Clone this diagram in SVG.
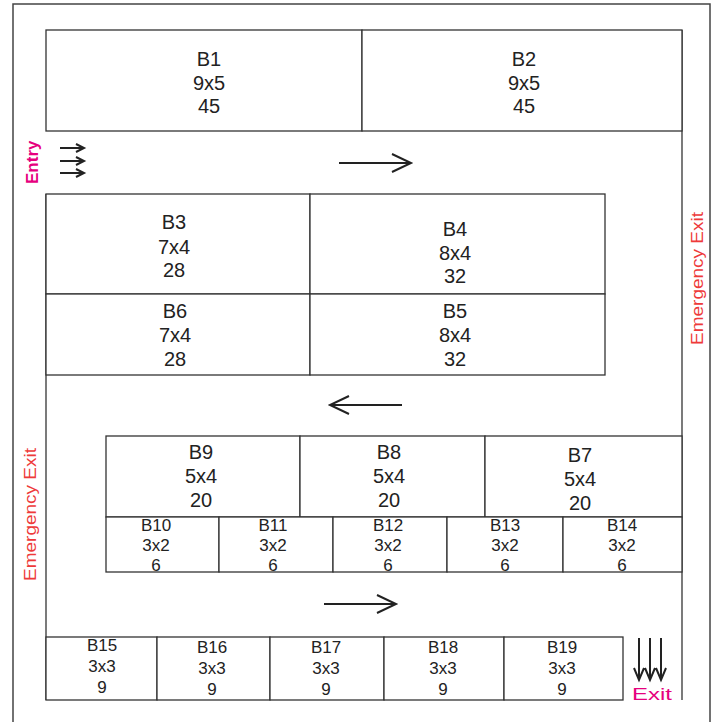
<svg xmlns="http://www.w3.org/2000/svg" width="720" height="722" viewBox="0 0 720 722">
<style>
.frame{fill:none;stroke:#444;stroke-width:1.5}
.wall{fill:none;stroke:#333;stroke-width:1.3}
.box{fill:#fff;stroke:#333;stroke-width:1.3}
.big{font-family:"Liberation Sans",Arial,sans-serif;font-size:20px;fill:#222;text-anchor:middle}
.sm{font-family:"Liberation Sans",Arial,sans-serif;font-size:17px;fill:#222;text-anchor:middle}
.arr{fill:none;stroke:#222;stroke-width:2}
.mag{font-family:"Liberation Sans",Arial,sans-serif;font-size:17px;fill:#e6007e}
.red{font-family:"Liberation Sans",Arial,sans-serif;font-size:17px;fill:#ee3a3a}
</style>
<rect width="720" height="722" fill="#fff"/>
<rect class="frame" x="13" y="4" width="697" height="740"/>
<g id="walls">
<line class="wall" x1="46" y1="194" x2="46" y2="700"/>
<line class="wall" x1="682" y1="30" x2="682" y2="700"/>
</g>
<g id="B1"><rect class="box" x="46" y="30" width="316" height="101"/><text class="big" x="209" y="66">B1</text><text class="big" x="209" y="90">9x5</text><text class="big" x="209" y="113">45</text></g>
<g id="B2"><rect class="box" x="362" y="30" width="320" height="101"/><text class="big" x="524" y="66">B2</text><text class="big" x="524" y="90">9x5</text><text class="big" x="524" y="113">45</text></g>
<g id="B3"><rect class="box" x="46" y="194" width="264" height="100"/><text class="big" x="174" y="229">B3</text><text class="big" x="174" y="254">7x4</text><text class="big" x="174" y="277">28</text></g>
<g id="B4"><rect class="box" x="310" y="194" width="295" height="100"/><text class="big" x="455" y="236">B4</text><text class="big" x="455" y="260">8x4</text><text class="big" x="455" y="283">32</text></g>
<g id="B6"><rect class="box" x="46" y="294" width="264" height="81"/><text class="big" x="175" y="318">B6</text><text class="big" x="175" y="342">7x4</text><text class="big" x="175" y="366">28</text></g>
<g id="B5"><rect class="box" x="310" y="294" width="295" height="81"/><text class="big" x="455" y="318">B5</text><text class="big" x="455" y="342">8x4</text><text class="big" x="455" y="366">32</text></g>
<g id="B9"><rect class="box" x="106" y="436" width="194" height="81"/><text class="big" x="201" y="459">B9</text><text class="big" x="201" y="483">5x4</text><text class="big" x="201" y="507">20</text></g>
<g id="B8"><rect class="box" x="300" y="436" width="185" height="81"/><text class="big" x="389" y="459">B8</text><text class="big" x="389" y="483">5x4</text><text class="big" x="389" y="507">20</text></g>
<g id="B7"><rect class="box" x="485" y="436" width="197" height="81"/><text class="big" x="580" y="462">B7</text><text class="big" x="580" y="486">5x4</text><text class="big" x="580" y="510">20</text></g>
<g id="B10"><rect class="box" x="106" y="517" width="113" height="55"/><text class="sm" x="156" y="531">B10</text><text class="sm" x="156" y="551">3x2</text><text class="sm" x="156" y="571">6</text></g>
<g id="B11"><rect class="box" x="219" y="517" width="114" height="55"/><text class="sm" x="273" y="531">B11</text><text class="sm" x="273" y="551">3x2</text><text class="sm" x="273" y="571">6</text></g>
<g id="B12"><rect class="box" x="333" y="517" width="114" height="55"/><text class="sm" x="388" y="531">B12</text><text class="sm" x="388" y="551">3x2</text><text class="sm" x="388" y="571">6</text></g>
<g id="B13"><rect class="box" x="447" y="517" width="116" height="55"/><text class="sm" x="505" y="531">B13</text><text class="sm" x="505" y="551">3x2</text><text class="sm" x="505" y="571">6</text></g>
<g id="B14"><rect class="box" x="563" y="517" width="119" height="55"/><text class="sm" x="622" y="531">B14</text><text class="sm" x="622" y="551">3x2</text><text class="sm" x="622" y="571">6</text></g>
<g id="B15"><rect class="box" x="46" y="637" width="111" height="63"/><text class="sm" x="102" y="651">B15</text><text class="sm" x="102" y="672">3x3</text><text class="sm" x="102" y="693">9</text></g>
<g id="B16"><rect class="box" x="157" y="637" width="113" height="63"/><text class="sm" x="212" y="653">B16</text><text class="sm" x="212" y="674">3x3</text><text class="sm" x="212" y="695">9</text></g>
<g id="B17"><rect class="box" x="270" y="637" width="114" height="63"/><text class="sm" x="326" y="653">B17</text><text class="sm" x="326" y="674">3x3</text><text class="sm" x="326" y="695">9</text></g>
<g id="B18"><rect class="box" x="384" y="637" width="120" height="63"/><text class="sm" x="443" y="653">B18</text><text class="sm" x="443" y="674">3x3</text><text class="sm" x="443" y="695">9</text></g>
<g id="B19"><rect class="box" x="504" y="637" width="119" height="63"/><text class="sm" x="562" y="653">B19</text><text class="sm" x="562" y="674">3x3</text><text class="sm" x="562" y="695">9</text></g>
<g id="connectors">
<path class="arr" d="M339 163H410M392 154L411 163L392 172"/>
<path class="arr" d="M402 405H331M349 396L330 405L349 414"/>
<path class="arr" d="M324 604H395M377 595L396 604L377 613"/>
<path class="arr" d="M60 148H83M76 144L84 148L76 152M60 161H83M76 157L84 161L76 165M60 173H83M76 169L84 173L76 177"/>
<path class="arr" d="M639 638V679M634 668L639 680L644 668M650 638V679M645 668L650 680L655 668M661 638V679M656 668L661 680L666 668"/>
</g>
<text class="mag" font-weight="bold" transform="translate(38,184) rotate(-90)">Entry</text>
<text class="mag" x="632" y="700" textLength="40" lengthAdjust="spacingAndGlyphs">Exit</text>
<text class="red" transform="translate(703,345) rotate(-90)" textLength="133" lengthAdjust="spacingAndGlyphs">Emergency Exit</text>
<text class="red" transform="translate(36,581) rotate(-90)" textLength="133" lengthAdjust="spacingAndGlyphs">Emergency Exit</text>
</svg>
